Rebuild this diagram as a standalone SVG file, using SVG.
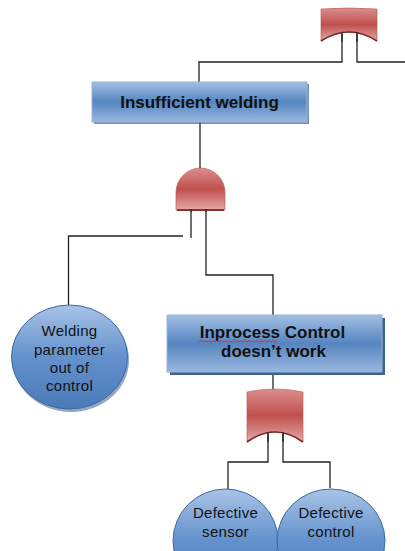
<svg xmlns="http://www.w3.org/2000/svg" width="405" height="551" viewBox="0 0 405 551">
<style>
.conn{fill:none;stroke:#222;stroke-width:1.3}
.box{fill:url(#boxGrad);stroke:#95b3d7;stroke-width:1}
.shadow{fill:#3f6390}
.gate{fill:url(#gateGrad);stroke:#b9514f;stroke-width:0.6}
.gateEdge{fill:none;stroke:#7a2a28;stroke-width:1.6}
.ev{fill:url(#circGrad);stroke:#3c6aa5;stroke-width:1}
.bt{font-family:"Liberation Sans",Arial,sans-serif;font-weight:bold;font-size:17px;fill:#111;text-anchor:middle}
.ct{font-family:"Liberation Sans",Arial,sans-serif;font-size:15px;fill:#111;text-anchor:middle;letter-spacing:0.3px}
</style>
<defs>
<linearGradient id="boxGrad" x1="0" y1="0" x2="0" y2="1">
<stop offset="0" stop-color="#a3bfe3"/>
<stop offset="0.5" stop-color="#5585c0"/>
<stop offset="1" stop-color="#9ab8df"/>
</linearGradient>
<linearGradient id="gateGrad" x1="0" y1="0" x2="0" y2="1">
<stop offset="0" stop-color="#dc8f8e"/>
<stop offset="0.5" stop-color="#c0504d"/>
<stop offset="1" stop-color="#e4a9a8"/>
</linearGradient>
<linearGradient id="circGrad" x1="0" y1="0" x2="0" y2="1">
<stop offset="0" stop-color="#a9c3e6"/>
<stop offset="0.5" stop-color="#6391cc"/>
<stop offset="1" stop-color="#4a7ab9"/>
</linearGradient>
</defs>

<g id="connectors">
<polyline class="conn" points="342,34 342,62 199,62 199,82"/>
<polyline class="conn" points="357,34 357,62 405,62"/>
<line class="conn" x1="200" y1="122" x2="200" y2="169"/>
<polyline class="conn" points="68.5,305 68.5,236 183,236"/>
<line class="conn" x1="191" y1="208" x2="191" y2="238"/>
<polyline class="conn" points="206,208 206,275 273,275 273,315"/>
<line class="conn" x1="273" y1="375" x2="273" y2="391"/>
<polyline class="conn" points="268,434 268,462 228,462 228,489"/>
<polyline class="conn" points="283,434 283,462 330,462 330,488"/>
</g>

<g id="gate-top-or">
<path class="gate" d="M321,9 Q349,7 377,9 L377,41 Q349,23 321,41 Z"/>
<path class="gateEdge" d="M321,41 Q349,23 377,41"/>
<line class="conn" x1="342" y1="32" x2="342" y2="42"/>
<line class="conn" x1="357" y1="32" x2="357" y2="42"/>
</g>

<g id="node-insufficient-welding">
<rect class="shadow" x="94" y="84" width="215" height="40" opacity="0.7"/>
<rect class="box" x="92" y="82" width="215" height="40"/>
<text class="bt" x="199.5" y="108">Insufficient welding</text>
</g>

<g id="gate-and">
<path class="gate" d="M176,210 L176,192.5 A24.5,24.5 0 0 1 225,192.5 L225,210 Z"/>
<line x1="177" y1="210" x2="224" y2="210" stroke="#8a3432" stroke-width="2"/>
<line class="conn" x1="191" y1="209" x2="191" y2="212"/>
<line class="conn" x1="206" y1="209" x2="206" y2="212"/>
</g>

<g id="node-welding-parameter">
<ellipse cx="71" cy="360" rx="58" ry="52" fill="#2f4f7a" opacity="0.5"/>
<ellipse class="ev" cx="69.5" cy="357" rx="58" ry="52"/>
<text class="ct" x="69.5" y="336">Welding</text>
<text class="ct" x="69.5" y="355">parameter</text>
<text class="ct" x="69.5" y="373">out of</text>
<text class="ct" x="69.5" y="391">control</text>
</g>

<g id="node-inprocess-control">
<rect class="shadow" x="170" y="318" width="215" height="57"/>
<rect class="box" x="167" y="315" width="215" height="57"/>
<text class="bt" x="272.5" y="338">Inprocess Control</text>
<text class="bt" x="273.5" y="357">doesn’t work</text>
<path d="M199,342 l2,-1.5 l2,1.5 l2,-1.5 l2,1.5 l2,-1.5 l2,1.5 l2,-1.5 l2,1.5 l2,-1.5 l2,1.5 l2,-1.5 l2,1.5 l2,-1.5 l2,1.5 l2,-1.5 l2,1.5 l2,-1.5 l2,1.5 l2,-1.5 l2,1.5 l2,-1.5 l2,1.5 l2,-1.5 l2,1.5 l2,-1.5 l2,1.5 l2,-1.5 l2,1.5 l2,-1.5 l2,1.5 l2,-1.5 l2,1.5 l2,-1.5 l2,1.5 l2,-1.5 l2,1.5 l2,-1.5 l2,1.5 l2,-1.5" fill="none" stroke="#e02020" stroke-width="0.8"/>
</g>

<g id="gate-bottom-or">
<path class="gate" d="M247,392 Q275,386 303,392 L303,442 Q275,422 247,442 Z"/>
<path class="gateEdge" d="M247,442 Q275,422 303,442"/>
<line class="conn" x1="268" y1="432" x2="268" y2="442"/>
<line class="conn" x1="283" y1="432" x2="283" y2="442"/>
</g>

<g id="node-defective-sensor">
<ellipse class="ev" cx="225.5" cy="541" rx="52.5" ry="52"/>
<text class="ct" x="225.5" y="518">Defective</text>
<text class="ct" x="225.5" y="537">sensor</text>
</g>

<g id="node-defective-control">
<ellipse class="ev" cx="331" cy="541" rx="54" ry="52"/>
<text class="ct" x="331" y="518">Defective</text>
<text class="ct" x="331" y="537">control</text>
</g>
</svg>
